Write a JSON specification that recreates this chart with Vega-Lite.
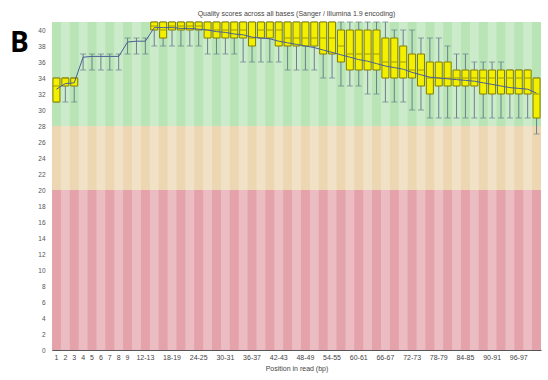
{
  "$schema": "https://vega.github.io/schema/vega-lite/v6.json",
  "width": 489,
  "height": 328,
  "autosize": {"type": "none"},
  "padding": {"left": 52, "top": 22, "right": 7, "bottom": 30},
  "background": "white",
  "config": {
    "view": {"stroke": null},
    "font": "Liberation Sans",
    "axisX": {"labelAngle": 0, "labelOverlap": false, "labelFontSize": 7, "labelColor": "#444", "ticks": false, "labelPadding": 3, "domainColor": "#555", "grid": false, "titleFontSize": 7, "titleFontWeight": "normal", "titleColor": "#444", "titlePadding": 4},
    "axisY": {"labelOverlap": false, "grid": false, "ticks": false, "labelPadding": 7, "labelFontSize": 6.5, "labelColor": "#555", "domainColor": "#555", "titleAngle": 0, "titleFontSize": 28, "titleFontWeight": "bold", "titleFont": "Open Sans", "titleColor": "#000", "titleX": -33, "titleY": 21, "titleAlign": "center", "titleBaseline": "middle"}
  },
  "title": {"text": "Quality scores across all bases (Sanger / Illumina 1.9 encoding)", "fontSize": 7, "fontWeight": "normal", "color": "#444", "offset": 5, "anchor": "middle"},
  "datasets": {
    "q": [
      {"pos": "1", "lw": 31, "q1": 31, "med": 33, "q3": 34, "hw": 34, "mean": 32.6},
      {"pos": "2", "lw": 31, "q1": 33, "med": 34, "q3": 34, "hw": 34, "mean": 33.3},
      {"pos": "3", "lw": 31, "q1": 33, "med": 34, "q3": 34, "hw": 34, "mean": 33.4},
      {"pos": "4", "lw": 35, "q1": 37, "med": 37, "q3": 37, "hw": 37, "mean": 36.6},
      {"pos": "5", "lw": 35, "q1": 37, "med": 37, "q3": 37, "hw": 37, "mean": 36.7},
      {"pos": "6", "lw": 35, "q1": 37, "med": 37, "q3": 37, "hw": 37, "mean": 36.7},
      {"pos": "7", "lw": 35, "q1": 37, "med": 37, "q3": 37, "hw": 37, "mean": 36.7},
      {"pos": "8", "lw": 35, "q1": 37, "med": 37, "q3": 37, "hw": 37, "mean": 36.7},
      {"pos": "9", "lw": 37, "q1": 39, "med": 39, "q3": 39, "hw": 39, "mean": 38.5},
      {"pos": "10-11", "lw": 37, "q1": 39, "med": 39, "q3": 39, "hw": 39, "mean": 38.6},
      {"pos": "12-13", "lw": 37, "q1": 39, "med": 39, "q3": 39, "hw": 39, "mean": 38.6},
      {"pos": "14-15", "lw": 38, "q1": 40, "med": 40.5, "q3": 41, "hw": 41, "mean": 40.3},
      {"pos": "16-17", "lw": 38, "q1": 39, "med": 40, "q3": 41, "hw": 41, "mean": 40.3},
      {"pos": "18-19", "lw": 38, "q1": 40, "med": 40.5, "q3": 41, "hw": 41, "mean": 40.3},
      {"pos": "20-21", "lw": 38, "q1": 40, "med": 40.5, "q3": 41, "hw": 41, "mean": 40.2},
      {"pos": "22-23", "lw": 38, "q1": 40, "med": 40.5, "q3": 41, "hw": 41, "mean": 40.2},
      {"pos": "24-25", "lw": 38, "q1": 40, "med": 40.5, "q3": 41, "hw": 41, "mean": 40.1},
      {"pos": "26-27", "lw": 37, "q1": 39, "med": 40, "q3": 41, "hw": 41, "mean": 40.0},
      {"pos": "28-29", "lw": 37, "q1": 39, "med": 40, "q3": 41, "hw": 41, "mean": 39.8},
      {"pos": "30-31", "lw": 37, "q1": 39, "med": 40, "q3": 41, "hw": 41, "mean": 39.7},
      {"pos": "32-33", "lw": 37, "q1": 39, "med": 40, "q3": 41, "hw": 41, "mean": 39.5},
      {"pos": "34-35", "lw": 36, "q1": 39, "med": 40, "q3": 41, "hw": 41, "mean": 39.4},
      {"pos": "36-37", "lw": 36, "q1": 38, "med": 39, "q3": 41, "hw": 41, "mean": 39.1},
      {"pos": "38-39", "lw": 36, "q1": 39, "med": 40, "q3": 41, "hw": 41, "mean": 39.0},
      {"pos": "40-41", "lw": 36, "q1": 39, "med": 40, "q3": 41, "hw": 41, "mean": 38.9},
      {"pos": "42-43", "lw": 36, "q1": 38, "med": 40, "q3": 41, "hw": 41, "mean": 38.6},
      {"pos": "44-45", "lw": 35, "q1": 38, "med": 39, "q3": 41, "hw": 41, "mean": 38.4},
      {"pos": "46-47", "lw": 35, "q1": 38, "med": 39, "q3": 41, "hw": 41, "mean": 38.2},
      {"pos": "48-49", "lw": 35, "q1": 38, "med": 39, "q3": 41, "hw": 41, "mean": 38.0},
      {"pos": "50-51", "lw": 35, "q1": 38, "med": 39, "q3": 41, "hw": 41, "mean": 37.8},
      {"pos": "52-53", "lw": 34, "q1": 37, "med": 39, "q3": 41, "hw": 41, "mean": 37.5},
      {"pos": "54-55", "lw": 34, "q1": 37, "med": 39, "q3": 41, "hw": 41, "mean": 37.2},
      {"pos": "56-57", "lw": 33, "q1": 36, "med": 38, "q3": 40, "hw": 41, "mean": 36.9},
      {"pos": "58-59", "lw": 33, "q1": 35, "med": 37, "q3": 40, "hw": 41, "mean": 36.6},
      {"pos": "60-61", "lw": 33, "q1": 35, "med": 37, "q3": 40, "hw": 41, "mean": 36.3},
      {"pos": "62-63", "lw": 32, "q1": 35, "med": 37, "q3": 40, "hw": 41, "mean": 36.1},
      {"pos": "64-65", "lw": 32, "q1": 35, "med": 37, "q3": 40, "hw": 41, "mean": 35.8},
      {"pos": "66-67", "lw": 31, "q1": 34, "med": 36, "q3": 39, "hw": 41, "mean": 35.5},
      {"pos": "68-69", "lw": 31, "q1": 34, "med": 36, "q3": 39, "hw": 40, "mean": 35.3},
      {"pos": "70-71", "lw": 31, "q1": 34, "med": 36, "q3": 38, "hw": 40, "mean": 35.1},
      {"pos": "72-73", "lw": 30, "q1": 34, "med": 35, "q3": 37, "hw": 40, "mean": 34.7},
      {"pos": "74-75", "lw": 30, "q1": 33, "med": 35, "q3": 37, "hw": 39, "mean": 34.4},
      {"pos": "76-77", "lw": 29, "q1": 32, "med": 34, "q3": 36, "hw": 39, "mean": 34.1},
      {"pos": "78-79", "lw": 29, "q1": 33, "med": 34, "q3": 36, "hw": 39, "mean": 34.0},
      {"pos": "80-81", "lw": 29, "q1": 33, "med": 34, "q3": 36, "hw": 38, "mean": 33.9},
      {"pos": "82-83", "lw": 29, "q1": 33, "med": 34, "q3": 35, "hw": 37, "mean": 33.8},
      {"pos": "84-85", "lw": 29, "q1": 33, "med": 34, "q3": 35, "hw": 37, "mean": 33.7},
      {"pos": "86-87", "lw": 29, "q1": 33, "med": 34, "q3": 35, "hw": 36, "mean": 33.6},
      {"pos": "88-89", "lw": 29, "q1": 32, "med": 34, "q3": 35, "hw": 36, "mean": 33.4},
      {"pos": "90-91", "lw": 29, "q1": 32, "med": 34, "q3": 35, "hw": 36, "mean": 33.2},
      {"pos": "92-93", "lw": 29, "q1": 32, "med": 34, "q3": 35, "hw": 36, "mean": 33.0},
      {"pos": "94-95", "lw": 29, "q1": 32, "med": 34, "q3": 35, "hw": 35, "mean": 32.8},
      {"pos": "96-97", "lw": 29, "q1": 32, "med": 34, "q3": 35, "hw": 35, "mean": 32.7},
      {"pos": "98-99", "lw": 29, "q1": 32, "med": 34, "q3": 35, "hw": 35, "mean": 32.6},
      {"pos": "100-101", "lw": 27, "q1": 29, "med": 32, "q3": 34, "hw": 34, "mean": 32.1}
    ],
    "zones": [
      {"zone": "ugly", "lo": 0, "hi": 20},
      {"zone": "bad", "lo": 20, "hi": 28},
      {"zone": "good", "lo": 28, "hi": 41}
    ]
  },
  "layer": [
    {
      "data": {"name": "zones"},
      "mark": {"type": "rect"},
      "encoding": {
        "y": {"field": "lo", "type": "quantitative", "title": "B", "scale": {"domain": [0, 41], "nice": false, "zero": false},
          "axis": {"labelOverlap": false, "values": [0,2,4,6,8,10,12,14,16,18,20,22,24,26,28,30,32,34,36,38,40]}},
        "y2": {"field": "hi"},
        "color": {"field": "zone", "type": "nominal", "scale": {"domain": ["good", "bad", "ugly"], "range": ["#b8e4b6", "#ecd7b2", "#e4a2ab"]}, "legend": null}
      }
    },
    {
      "data": {"name": "q"},
      "transform": [
        {"window": [{"op": "row_number", "as": "idx"}]}
      ],
      "mark": {"type": "rect", "color": "white"},
      "encoding": {
        "x": {"field": "pos", "type": "nominal", "sort": null, "title": "Position in read (bp)", "scale": {"paddingInner": 0, "paddingOuter": 0},
          "axis": {"values": ["1","2","3","4","5","6","7","8","9","12-13","18-19","24-25","30-31","36-37","42-43","48-49","54-55","60-61","66-67","72-73","78-79","84-85","90-91","96-97"]}},
        "y": {"datum": 0, "type": "quantitative", "title": "B", "axis": {"labelOverlap": false, "values": [0,2,4,6,8,10,12,14,16,18,20,22,24,26,28,30,32,34,36,38,40]}},
        "y2": {"datum": 41},
        "opacity": {"condition": {"test": "datum.idx % 2 == 0", "value": 0.28}, "value": 0}
      }
    },
    {
      "data": {"name": "q"},
      "mark": {"type": "rule", "color": "#6a808c", "strokeWidth": 1},
      "encoding": {
        "x": {"field": "pos", "type": "nominal", "sort": null, "title": "Position in read (bp)"},
        "y": {"field": "lw", "type": "quantitative", "title": "B", "axis": {"labelOverlap": false, "values": [0,2,4,6,8,10,12,14,16,18,20,22,24,26,28,30,32,34,36,38,40]}},
        "y2": {"field": "hw"}
      }
    },
    {
      "data": {"name": "q"},
      "mark": {"type": "tick", "color": "#6a808c", "size": 6, "thickness": 1},
      "encoding": {
        "x": {"field": "pos", "type": "nominal", "sort": null, "title": "Position in read (bp)"},
        "y": {"field": "lw", "type": "quantitative", "title": "B", "axis": {"labelOverlap": false, "values": [0,2,4,6,8,10,12,14,16,18,20,22,24,26,28,30,32,34,36,38,40]}}
      }
    },
    {
      "data": {"name": "q"},
      "mark": {"type": "tick", "color": "#6a808c", "size": 6, "thickness": 1},
      "encoding": {
        "x": {"field": "pos", "type": "nominal", "sort": null, "title": "Position in read (bp)"},
        "y": {"field": "hw", "type": "quantitative", "title": "B", "axis": {"labelOverlap": false, "values": [0,2,4,6,8,10,12,14,16,18,20,22,24,26,28,30,32,34,36,38,40]}}
      }
    },
    {
      "data": {"name": "q"},
      "mark": {"type": "bar", "size": 7, "fill": "#f2f000", "stroke": "#847e00", "strokeWidth": 1},
      "encoding": {
        "x": {"field": "pos", "type": "nominal", "sort": null, "title": "Position in read (bp)"},
        "y": {"field": "q1", "type": "quantitative", "title": "B", "axis": {"labelOverlap": false, "values": [0,2,4,6,8,10,12,14,16,18,20,22,24,26,28,30,32,34,36,38,40]}},
        "y2": {"field": "q3"},
        "opacity": {"condition": {"test": "datum.q3 > datum.q1", "value": 1}, "value": 0}
      }
    },
    {
      "data": {"name": "q"},
      "mark": {"type": "tick", "color": "#a09a00", "size": 7, "thickness": 1},
      "encoding": {
        "x": {"field": "pos", "type": "nominal", "sort": null, "title": "Position in read (bp)"},
        "y": {"field": "med", "type": "quantitative", "title": "B", "axis": {"labelOverlap": false, "values": [0,2,4,6,8,10,12,14,16,18,20,22,24,26,28,30,32,34,36,38,40]}},
        "opacity": {"condition": {"test": "datum.q3 > datum.q1", "value": 1}, "value": 0}
      }
    },
    {
      "data": {"name": "q"},
      "mark": {"type": "line", "color": "#4a5f96", "strokeWidth": 1},
      "encoding": {
        "x": {"field": "pos", "type": "nominal", "sort": null, "title": "Position in read (bp)"},
        "y": {"field": "mean", "type": "quantitative", "title": "B", "axis": {"labelOverlap": false, "values": [0,2,4,6,8,10,12,14,16,18,20,22,24,26,28,30,32,34,36,38,40]}}
      }
    }
  ]
}
